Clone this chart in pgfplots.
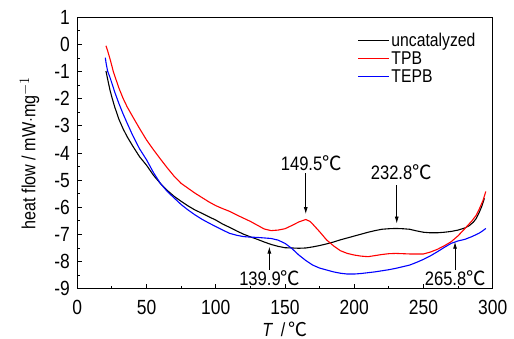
\documentclass[border=0pt]{standalone}
\usepackage{pgfplots}
\pgfplotsset{compat=1.18}
\usepackage{fontspec}
\setmainfont{Liberation Sans}[FakeStretch=0.85]
\newfontfamily\cjk{Noto Sans CJK SC}
\usetikzlibrary{arrows.meta}
\newcommand{\dc}{{\cjk ℃}}
\newcommand{\lstrut}{\rule[-5pt]{0pt}{19.5pt}}
\begin{document}
\begin{tikzpicture}
\begin{axis}[
  name=ax,
  scale only axis,
  width=415.4pt, height=271.4pt,
  xmin=0, xmax=300, ymin=-9, ymax=1,
  xtick={0,50,...,300}, ytick={-9,-8,...,1},
  minor x tick num=1, minor y tick num=1,
  tick align=inside,
  xtick pos=bottom, ytick pos=left,
  major tick length=5pt, minor tick length=3pt,
  axis line style={line width=1.1pt},
  every tick/.style={black, line width=0.9pt},
  /pgf/number format/assume math mode=true,
  ticklabel style={font=\fontsize{20.5}{22}\selectfont},
  xticklabel style={yshift=-8pt},
  yticklabel style={xshift=-4pt},
  label style={font=\fontsize{19}{21}\selectfont},
  xlabel={\textit{T} \,/\,\dc},
  ylabel={heat flow / mW$\cdot$mg$^{-1}$},
  xlabel style={yshift=0pt},
  ylabel style={yshift=8pt},
  legend cell align=left,
  legend style={draw=none, fill=none, at={(0.675,0.95)}, anchor=north west,
    font=\fontsize{18.5}{20}\selectfont, row sep=0pt, inner sep=0pt,
    nodes={inner xsep=1.5pt, inner ysep=1pt}},
  legend image code/.code={\draw[mark repeat=2,mark phase=2,#1] plot coordinates {(0pt,0pt) (15.5pt,0pt) (31pt,0pt)};},
]
\addplot[color=black, line width=1.1pt] coordinates {
(20.7,-0.98) (22,-1.3) (23.6,-1.68) (25,-1.95) (27,-2.3) (30,-2.75) (33,-3.1)
(36,-3.4) (40,-3.74) (45,-4.14) (50,-4.45) (55,-4.82) (60,-5.12) (65,-5.38) (70,-5.6)
(75,-5.78) (80,-5.95) (85,-6.1) (90,-6.22) (95,-6.35) (100,-6.47) (105,-6.62) (110,-6.74)
(115,-6.87) (120,-6.99) (125,-7.09) (130,-7.18) (135,-7.28) (140,-7.37) (145,-7.44)
(150,-7.49) (155,-7.5) (160,-7.51) (165,-7.5) (170,-7.46) (175,-7.41) (180,-7.35)
(185,-7.28) (190,-7.2) (195,-7.13) (200,-7.06) (205,-6.99) (210,-6.92) (215,-6.86)
(220,-6.81) (225,-6.79) (230,-6.78) (235,-6.79) (240,-6.81) (245,-6.87) (250,-6.92)
(255,-6.94) (260,-6.94) (265,-6.92) (270,-6.89) (275,-6.84) (280,-6.76) (283,-6.68)
(286,-6.55) (288,-6.42) (290,-6.22) (292,-5.98) (294,-5.67)
};
\addlegendentry{\lstrut uncatalyzed}
\addplot[color=red, line width=1.1pt] coordinates {
(20.7,-0.05) (22,-0.25) (24,-0.6) (26,-1.0) (28,-1.3) (30,-1.6) (33,-1.98) (36,-2.3)
(40,-2.66) (45,-3.1) (50,-3.52) (55,-3.88) (60,-4.22) (65,-4.55) (70,-4.86) (75,-5.12)
(80,-5.3) (85,-5.48) (90,-5.64) (95,-5.8) (100,-5.94) (105,-6.05) (110,-6.15)
(115,-6.28) (120,-6.4) (125,-6.52) (130,-6.66) (135,-6.8) (140,-6.86) (145,-6.84)
(150,-6.79) (155,-6.67) (160,-6.54) (165,-6.45) (168,-6.52) (170,-6.62) (175,-6.9)
(180,-7.2) (185,-7.42) (190,-7.6) (195,-7.7) (200,-7.76) (205,-7.8) (210,-7.82)
(215,-7.78) (220,-7.74) (225,-7.71) (230,-7.7) (235,-7.71) (240,-7.72) (245,-7.72)
(250,-7.72) (255,-7.65) (260,-7.55) (265,-7.42) (270,-7.27) (275,-7.05) (280,-6.78)
(285,-6.5) (288,-6.3) (290,-6.1) (293,-5.75) (295,-5.42)
};
\addlegendentry{\lstrut TPB}
\addplot[color=blue, line width=1.1pt] coordinates {
(20.2,-0.49) (21,-0.75) (22,-1.0) (23.5,-1.2) (25,-1.43) (27,-1.75) (30,-2.17)
(33,-2.55) (36,-2.9) (40,-3.35) (45,-3.85) (50,-4.25) (55,-4.72) (60,-5.12) (65,-5.42)
(70,-5.66) (75,-5.9) (80,-6.1) (85,-6.28) (90,-6.44) (95,-6.58) (100,-6.71)
(105,-6.84) (110,-6.96) (115,-7.03) (120,-7.08) (125,-7.1) (130,-7.11) (135,-7.13)
(140,-7.15) (145,-7.21) (150,-7.33) (155,-7.52) (160,-7.76) (165,-7.96) (170,-8.13)
(175,-8.24) (180,-8.31) (185,-8.38) (190,-8.43) (195,-8.46) (200,-8.46) (205,-8.44)
(210,-8.41) (215,-8.38) (220,-8.34) (225,-8.3) (230,-8.25) (235,-8.19) (240,-8.13)
(245,-8.03) (250,-7.92) (255,-7.79) (260,-7.64) (265,-7.48) (270,-7.33) (275,-7.24)
(280,-7.18) (285,-7.08) (290,-6.96) (293,-6.86) (295,-6.78)
};
\addlegendentry{\lstrut TEPB}
\draw[-{Latex[length=7pt,width=4pt]}, line width=0.8pt] (axis cs:165,-4.75) -- (axis cs:165,-6.25);
\node[font=\fontsize{19.5}{21}\selectfont] at (axis cs:169,-4.36) {149.5\dc};
\draw[-{Latex[length=7pt,width=4pt]}, line width=0.8pt] (axis cs:230.7,-5.18) -- (axis cs:230.7,-6.6);
\node[font=\fontsize{19.5}{21}\selectfont] at (axis cs:234,-4.72) {232.8\dc};
\draw[-{Latex[length=7pt,width=4pt]}, line width=0.8pt] (axis cs:138.7,-8.31) -- (axis cs:138.7,-7.45);
\node[font=\fontsize{19.5}{21}\selectfont] at (axis cs:139,-8.62) {139.9\dc};
\draw[-{Latex[length=7pt,width=4pt]}, line width=0.8pt] (axis cs:272.8,-8.31) -- (axis cs:272.8,-7.27);
\node[font=\fontsize{19.5}{21}\selectfont] at (axis cs:273,-8.62) {265.8\dc};
\end{axis}
\pgfresetboundingbox
\path ([shift={(-77.3pt,-50.3pt)}]ax.south west) rectangle ([shift={(21.3pt,17.3pt)}]ax.north east);
\end{tikzpicture}
\end{document}
